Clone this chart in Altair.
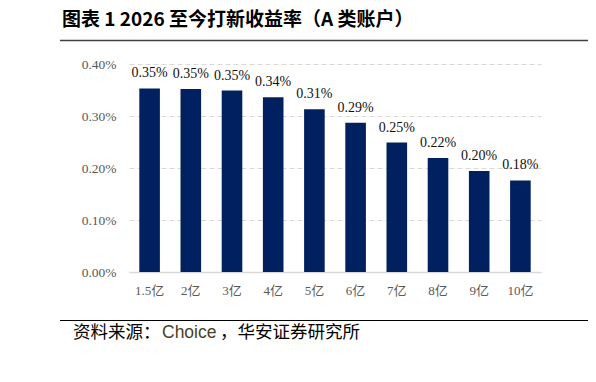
import altair as alt
import pandas as pd

categories = ["1.5亿", "2亿", "3亿", "4亿", "5亿", "6亿", "7亿", "8亿", "9亿", "10亿"]
values = [0.00353, 0.00352, 0.00349, 0.00336, 0.00313, 0.00287, 0.00249, 0.00219, 0.00194, 0.00176]
labels = ["0.35%", "0.35%", "0.35%", "0.34%", "0.31%", "0.29%", "0.25%", "0.22%", "0.20%", "0.18%"]
y_ticks = [0.0, 0.001, 0.002, 0.003, 0.004]

title_text = "图表 1 2026 至今打新收益率（A 类账户）"
source_parts = ["资料来源：", "Choice", "，华安证券研究所"]

df = pd.DataFrame({"cat": categories, "val": values, "label": labels})
one = pd.DataFrame({"k": [0]})

serif = "Liberation Serif, Noto Sans CJK SC"
cjk = "Noto Sans CJK SC"

x_enc = alt.X(
    "cat:N", sort=categories,
    scale=alt.Scale(paddingInner=0.5, paddingOuter=0.25),
    axis=alt.Axis(title=None, labelAngle=0, ticks=False, tickSize=0, labelPadding=12,
                  labelFont=serif, labelFontSize=13, labelColor="#595959",
                  domainColor="#d9d9d9", domainWidth=1.5, grid=False),
)
y_enc = alt.Y(
    "val:Q",
    scale=alt.Scale(domain=[0, 0.004], nice=False),
    axis=alt.Axis(title=None, format=".2%", values=y_ticks, domain=False, ticks=False,
                  tickSize=0, labelPadding=13, labelFont=serif, labelFontSize=13.5,
                  labelColor="#595959", grid=True, gridColor="#d9d9d9", gridDash=[5, 3],
                  gridWidth=1),
)

bars = alt.Chart(df).mark_bar(color="#002060").encode(x=x_enc, y=y_enc)
texts = alt.Chart(df).mark_text(
    dy=-11, baseline="alphabetic", font=serif, fontSize=14, color="#111111"
).encode(x=alt.X("cat:N", sort=categories), y="val:Q", text="label:N")

title = alt.Chart(one).mark_text(
    align="left", baseline="middle", font=cjk, fontSize=19, fontWeight="bold", color="#000000"
).encode(x=alt.value(-67), y=alt.value(-44), text=alt.value(title_text))

title_line = alt.Chart(one).mark_rule(color="#404040", strokeWidth=1.5).encode(
    x=alt.value(-69), x2=alt.value(461), y=alt.value(-23.5))

source_line = alt.Chart(one).mark_rule(color="#000000", strokeWidth=1).encode(
    x=alt.value(-69), x2=alt.value(459), y=alt.value(256.5))

src1 = alt.Chart(one).mark_text(
    align="left", baseline="middle", font=cjk, fontSize=17.5, color="#000000"
).encode(x=alt.value(-56), y=alt.value(269), text=alt.value(source_parts[0]))
src2 = alt.Chart(one).mark_text(
    align="left", baseline="middle", font="Liberation Sans", fontSize=17.5, color="#4a3f28"
).encode(x=alt.value(33), y=alt.value(269), text=alt.value(source_parts[1]))
src3 = alt.Chart(one).mark_text(
    align="left", baseline="middle", font=cjk, fontSize=17.5, color="#000000"
).encode(x=alt.value(91), y=alt.value(269), text=alt.value(source_parts[2]))

chart = alt.layer(bars, texts, title, title_line, source_line, src1, src2, src3).properties(
    width=412, height=208,
    padding={"left": 121, "top": 56, "right": 47, "bottom": 102},
    autosize=alt.AutoSizeParams(type="none"),
).configure_view(strokeWidth=0)

chart.save("out.html", embed_options={"renderer": "svg", "actions": False})
